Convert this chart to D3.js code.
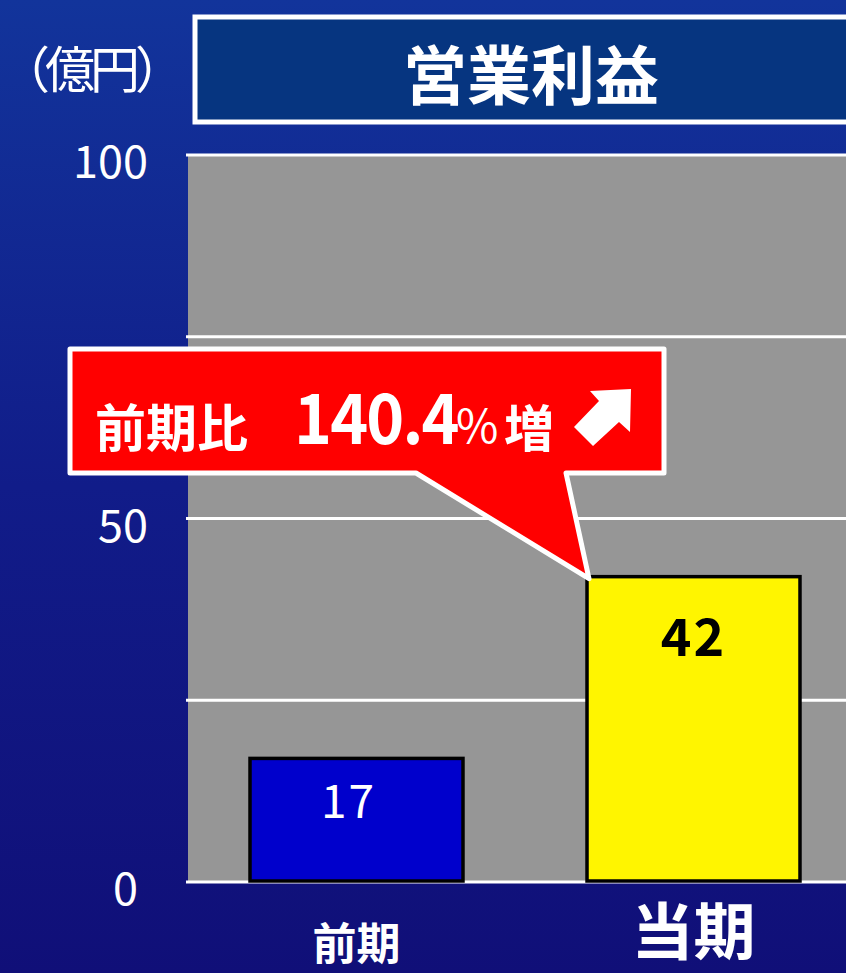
<!DOCTYPE html>
<html>
<head>
<meta charset="utf-8">
<script src="https://cdn.jsdelivr.net/npm/d3@7"></script>
<style>
  html, body { margin: 0; padding: 0; background: #11177f; }
  svg { display: block; }
  text { font-family: "Noto Sans CJK JP", "Noto Sans", sans-serif; }
</style>
</head>
<body>
<script>
// chart data
var categories = ["前期", "当期"];
var values = [17, 42];
var barColors = ["#0000cc", "#fff500"];
var labelColors = ["#ffffff", "#000000"];
var gridValues = [0, 25, 50, 75, 100];
var tickLabels = [0, 50, 100];
var title = "営業利益";
var unitLabel = "（億円）";
var calloutLabel = "前期比";
var calloutValue = "140.4";

var svgWidth = 846;
var svgHeight = 973;

var plot = { left: 188, right: 862, top: 155, bottom: 882 };

var svg = d3.select("body")
  .append("svg")
  .attr("width", svgWidth)
  .attr("height", svgHeight);

// background gradient
var defs = svg.append("defs");
var grad = defs.append("linearGradient")
  .attr("id", "bg")
  .attr("x1", 0).attr("y1", 0).attr("x2", 0).attr("y2", 1);
grad.append("stop").attr("offset", "0%").attr("stop-color", "#12349b");
grad.append("stop").attr("offset", "50%").attr("stop-color", "#111c89");
grad.append("stop").attr("offset", "100%").attr("stop-color", "#100f78");

svg.append("rect")
  .attr("width", svgWidth)
  .attr("height", svgHeight)
  .attr("fill", "url(#bg)");

// scales
var xScale = d3.scaleBand()
  .domain(categories)
  .range([plot.left, plot.right])
  .paddingInner(0.368)
  .paddingOuter(0.184);

var yScale = d3.scaleLinear()
  .domain([0, 100])
  .range([plot.bottom, plot.top]);

// plot area
svg.append("rect")
  .attr("x", plot.left)
  .attr("y", yScale(100))
  .attr("width", plot.right - plot.left)
  .attr("height", yScale(0) - yScale(100))
  .attr("fill", "#969696");

// grid lines
svg.append("g")
  .selectAll("line")
  .data(gridValues)
  .enter()
  .append("line")
  .attr("x1", plot.left - 2)
  .attr("x2", plot.right)
  .attr("y1", d => yScale(d))
  .attr("y2", d => yScale(d))
  .attr("stroke", "#ffffff")
  .attr("stroke-width", 3);

// y axis labels
var yAxis = d3.axisLeft(yScale)
  .tickValues(tickLabels)
  .tickSize(0)
  .tickPadding(40);

var yAxisG = svg.append("g")
  .attr("transform", `translate(${plot.left}, 0)`)
  .call(yAxis);
yAxisG.select(".domain").remove();
yAxisG.selectAll("text")
  .attr("fill", "#ffffff")
  .attr("font-size", 45)
  .attr("font-family", "'Noto Sans CJK JP', sans-serif")
  .attr("dx", d => d === 0 ? -10 : 0)
  .attr("dy", "0.5em");

// bars
svg.append("g")
  .selectAll("rect")
  .data(values)
  .enter()
  .append("rect")
  .attr("x", (d, i) => xScale(categories[i]))
  .attr("y", d => yScale(d))
  .attr("width", xScale.bandwidth())
  .attr("height", d => yScale(0) - yScale(d) - 1)
  .attr("fill", (d, i) => barColors[i])
  .attr("stroke", "#000000")
  .attr("stroke-width", 3.5);

// bar value labels
svg.append("g")
  .selectAll("text")
  .data(values)
  .enter()
  .append("text")
  .attr("x", (d, i) => xScale(categories[i]) + xScale.bandwidth() / 2 - (i === 0 ? 8 : 0))
  .attr("y", (d, i) => yScale(d) + (i === 0 ? 60 : 79))
  .attr("text-anchor", "middle")
  .attr("fill", (d, i) => labelColors[i])
  .attr("font-size", (d, i) => i === 0 ? 46 : 52)
  .attr("font-weight", (d, i) => i === 0 ? "normal" : "bold")
  .attr("letter-spacing", 2)
  .text(d => d);

// category labels
svg.append("g")
  .selectAll("text")
  .data(categories)
  .enter()
  .append("text")
  .attr("x", d => xScale(d) + xScale.bandwidth() / 2)
  .attr("y", (d, i) => i === 0 ? 960 : 955)
  .attr("text-anchor", "middle")
  .attr("fill", "#ffffff")
  .attr("font-weight", "bold")
  .attr("font-size", (d, i) => i === 0 ? 44 : 62)
  .text(d => d);

// title box
svg.append("rect")
  .attr("x", 195)
  .attr("y", 17)
  .attr("width", 680)
  .attr("height", 105)
  .attr("fill", "#063580")
  .attr("stroke", "#ffffff")
  .attr("stroke-width", 5);

svg.append("text")
  .attr("x", 531)
  .attr("y", 99)
  .attr("text-anchor", "middle")
  .attr("fill", "#ffffff")
  .attr("font-weight", "bold")
  .attr("font-size", 64)
  .text(title);

// unit label
svg.append("text")
  .attr("x", 0)
  .attr("y", 88)
  .attr("fill", "#ffffff")
  .attr("font-size", 50)
  .attr("letter-spacing", -5)
  .text(unitLabel);

// callout pointing at the current period bar
var tipX = xScale(categories[1]) + 2;
var tipY = yScale(values[1]) + 2;
var box = { x: 70, y: 349, w: 594, h: 124 };
var tailL = 416;
var tailR = 566;

var calloutPath = d3.path();
calloutPath.moveTo(box.x, box.y);
calloutPath.lineTo(box.x + box.w, box.y);
calloutPath.lineTo(box.x + box.w, box.y + box.h);
calloutPath.lineTo(tailR, box.y + box.h);
calloutPath.lineTo(tipX, tipY);
calloutPath.lineTo(tailL, box.y + box.h);
calloutPath.lineTo(box.x, box.y + box.h);
calloutPath.closePath();

svg.append("path")
  .attr("d", calloutPath.toString())
  .attr("fill", "#ff0000")
  .attr("stroke", "#ffffff")
  .attr("stroke-width", 5)
  .attr("stroke-linejoin", "round");

var callout = svg.append("g").attr("fill", "#ffffff");
callout.append("text")
  .attr("x", 95)
  .attr("y", 447)
  .attr("font-size", 51)
  .attr("font-weight", "bold")
  .text(calloutLabel);
callout.append("text")
  .attr("transform", "translate(294,444) scale(0.92,1)")
  .attr("font-size", 70)
  .attr("font-weight", "bold")
  .attr("letter-spacing", -2)
  .text(calloutValue);
callout.append("text")
  .attr("x", 456)
  .attr("y", 443)
  .attr("font-size", 46)
  .text("%");
callout.append("text")
  .attr("x", 504)
  .attr("y", 447)
  .attr("font-size", 50)
  .attr("font-weight", "bold")
  .text("増");

// up-right arrow icon
var arrowPts = [[631, 389], [590, 391], [599, 401], [574, 427], [593, 446], [619, 422], [630, 432]];
svg.append("path")
  .attr("d", d3.line()(arrowPts) + "Z")
  .attr("fill", "#ffffff");
</script>
</body>
</html>
